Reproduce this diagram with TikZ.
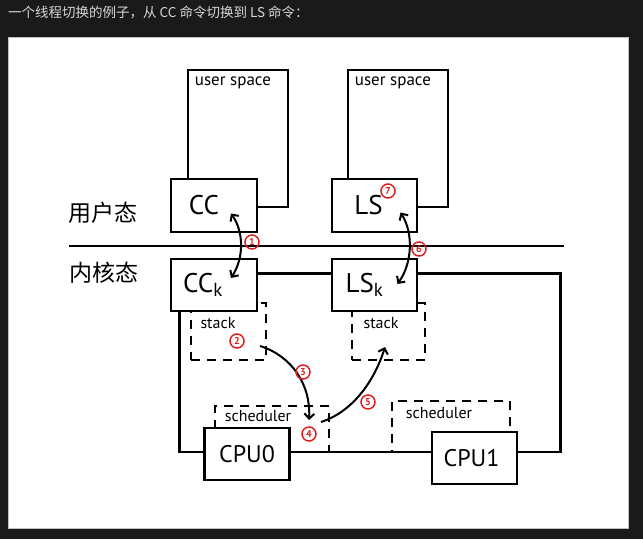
\documentclass[tikz,border=0pt]{standalone}
\usepackage{fontspec}
\setmainfont{PT Sans}
\newfontfamily\cjkfont{Noto Sans CJK SC}
\usetikzlibrary{positioning,arrows.meta,calc}
\definecolor{pagedark}{RGB}{26,26,26}
\definecolor{headgray}{RGB}{215,215,215}
\definecolor{markred}{RGB}{225,30,30}
\tikzset{
  proc-node/.style={draw=black, line width=2.6pt, fill=white, inner sep=0pt,
    font=\fontsize{27}{27}\selectfont},
  cpu-node/.style={draw=black, line width=2.6pt, fill=white, inner sep=0pt,
    minimum width=85pt, minimum height=52pt, font=\fontsize{24}{24}\selectfont},
  space-node/.style={draw=black, line width=2.6pt, inner sep=0pt,
    minimum width=100pt, minimum height=137pt},
  region-box/.style={draw=black, line width=2.4pt, dash pattern=on 9pt off 7pt, inner sep=0pt},
  small-text/.style={font=\fontsize{16}{16}\selectfont, inner sep=0pt},
  state-text/.style={font=\cjkfont\fontsize{23}{23}\selectfont, inner sep=0pt},
  step-mark/.style={circle, draw=markred, line width=1.5pt, text=markred,
    minimum size=14pt, inner sep=0pt, font=\fontsize{10}{10}\selectfont\bfseries},
  wire/.style={line width=2.6pt, draw=black},
  switch-arrow/.style={line width=2pt, -{Straight Barb[length=5pt,width=10pt]}},
  bidir-arrow/.style={line width=2pt,
    {Straight Barb[length=5pt,width=10pt]}-{Straight Barb[length=5pt,width=10pt]}}
}
\begin{document}
\begin{tikzpicture}[x=1pt,y=-1pt]
\fill[pagedark] (0,0) rectangle (643,539);
\useasboundingbox (0,0) rectangle (643,539);
\node[anchor=west, text=headgray, font=\cjkfont\fontsize{13.5}{14}\selectfont, inner sep=0pt]
  (heading) at (8,12) {一个线程切换的例子，从 CC 命令切换到 LS 命令：};
\node[fill=white, draw=gray!50, line width=0.6pt, minimum width=620pt, minimum height=491pt,
  inner sep=0pt] (panel) at (318,282.5) {};

% user space
\node[space-node] (ccspace) at (238,138.5) {};
\node[space-node] (lsspace) at (398,138.5) {};
\node[small-text, font=\fontsize{17}{17}\selectfont, anchor=north west] (ccspacelabel)
  at ([shift={(8,8)}]ccspace.north west) {user space};
\node[small-text, font=\fontsize{17}{17}\selectfont, anchor=north west] (lsspacelabel)
  at ([shift={(8,8)}]lsspace.north west) {user space};

\node[proc-node, minimum width=86pt, minimum height=53pt] (cc) at (214,205.5) {CC\kern20pt};
\node[proc-node, minimum width=85pt, minimum height=53pt] (ls) at (374.5,205.5) {LS\kern12pt};

% user / kernel boundary
\coordinate (lineleft) at (69,246);
\coordinate (lineright) at (564,246);
\draw[wire] (lineleft) -- (lineright);
\node[state-text] (userstate) at (103,213) {用户态};
\node[state-text] (kernelstate) at (104,273) {内核态};

% stacks
\node[region-box, minimum width=75pt, minimum height=57pt] (ccstack) at (228.5,331.5) {};
\node[region-box, minimum width=73pt, minimum height=57pt] (lsstack) at (388.5,331.5) {};
\node[proc-node, minimum width=86pt, minimum height=52pt] (cck) at (214,285)
  {CC\textsubscript{k}\kern22pt};
\node[proc-node, minimum width=85pt, minimum height=52pt] (lsk) at (374.5,285)
  {LS\textsubscript{k}\kern20pt};
\node[small-text] (ccstacklabel) at (218,323) {stack};
\node[small-text] (lsstacklabel) at (381,323) {stack};

% schedulers
\node[region-box, minimum width=114pt, minimum height=46pt] (sched0) at (272,429) {};
\node[region-box, minimum width=118pt, minimum height=51pt] (sched1) at (451,426.5) {};
\node[small-text] (sched0label) at (258,416) {scheduler};
\node[small-text] (sched1label) at (439,413) {scheduler};

\node[cpu-node] (cpu0) at (247,454) {CPU0};
\node[cpu-node] (cpu1) at (474.5,458) {CPU1\kern6pt};

% wiring
\draw[wire] ([yshift=-16pt]cck.north east) -- ([yshift=-16pt]lsk.north west);
\draw[wire] ([xshift=10pt]cck.south west) |- ([yshift=2pt]cpu0.west);
\draw[wire] ([yshift=2pt]cpu0.east) -- ([yshift=6pt]cpu1.west);
\draw[wire] ([yshift=-16pt]lsk.north east) -| ([xshift=42pt,yshift=6pt]cpu1.east)
  -- ([yshift=6pt]cpu1.east);

% switch path
\coordinate (ccup) at ([shift={(17,8)}]cc.center);
\coordinate (ccdown) at ([shift={(17,-7)}]cck.center);
\coordinate (lsup) at ([shift={(26,7)}]ls.center);
\coordinate (lsdown) at ([shift={(23,-1)}]lsk.center);
\coordinate (savestart) at (260,346);
\coordinate (schedin) at (309,420);
\coordinate (schedout) at (321,422);
\coordinate (loadend) at (385,347);
\draw[bidir-arrow] (ccup) .. controls (244,232) and (244,258) .. (ccdown);
\draw[bidir-arrow] (lsup) .. controls (413,232) and (413,262) .. (lsdown);
\draw[switch-arrow] (savestart) .. controls (292,356) and (311,385) .. (schedin);
\draw[switch-arrow] (schedout) .. controls (352,412) and (374,382) .. (loadend);

\node[step-mark] (s1) at (252,242) {1};
\node[step-mark] (s2) at (237,341) {2};
\node[step-mark] (s3) at (303,372) {3};
\node[step-mark] (s4) at (309,434) {4};
\node[step-mark] (s5) at (368,402) {5};
\node[step-mark] (s6) at (419,249) {6};
\node[step-mark] (s7) at (388,191) {7};
\end{tikzpicture}
\end{document}
